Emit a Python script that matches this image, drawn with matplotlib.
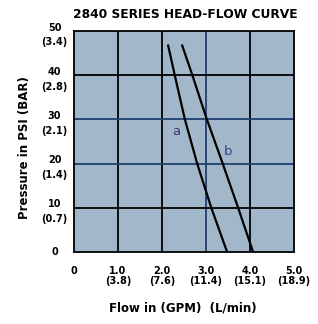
import matplotlib
matplotlib.use("Agg")
import matplotlib.pyplot as plt
import matplotlib.transforms as mtransforms

# curve a / b: flow (GPM) at pressure (PSI)
pressure_a = [46.7, 40, 30, 20, 10, 0]
flow_a = [2.14, 2.29, 2.52, 2.80, 3.12, 3.48]
pressure_b = [46.7, 40, 30, 20, 10, 0]
flow_b = [2.46, 2.69, 3.02, 3.38, 3.73, 4.07]

x_ticks = [0, 1, 2, 3, 4, 5]
x_labels = ["0", "1.0\n(3.8)", "2.0\n(7.6)", "3.0\n(11.4)", "4.0\n(15.1)", "5.0\n(18.9)"]
y_ticks = [0, 10, 20, 30, 40, 50]
y_labels = ["0", "10\n(0.7)", "20\n(1.4)", "30\n(2.1)", "40\n(2.8)", "50\n(3.4)"]

FONT = ["DejaVu Sans"]
BG = "#a3b7cb"
NAVY = "#1f3f6e"

W, H = 318, 324
fig = plt.figure(figsize=(W / 100, H / 100), dpi=100)
ax = fig.add_axes([74 / W, (H - 252) / H, 220 / W, 221 / H])
ax.set_facecolor(BG)
ax.set_xlim(0, 5)
ax.set_ylim(0, 50)

# grid: black lines, with the 3.0 / 20 / 30 lines in dark blue
for x in [1, 2, 4]:
    ax.axvline(x, color="black", lw=1.3, zorder=1)
ax.axvline(3, color=NAVY, lw=1.3, zorder=1)
for y in [10, 40]:
    ax.axhline(y, color="black", lw=1.3, zorder=1)
for y in [20, 30]:
    ax.axhline(y, color=NAVY, lw=1.3, zorder=1)

ax.plot(flow_a, pressure_a, color="black", lw=1.6, zorder=3)
ax.plot(flow_b, pressure_b, color="black", lw=1.6, zorder=3)
ax.text(2.32, 27.3, "a", color="#3c3570", fontsize=9.5, ha="center", va="center",
        family=FONT)
ax.text(3.5, 22.7, "b", color="#2a4a86", fontsize=9.5, ha="center", va="center",
        family=FONT)

for s in ax.spines.values():
    s.set_linewidth(1.3)
    s.set_color("black")

ax.set_xticks(x_ticks)
ax.set_xticklabels(x_labels, fontsize=7, fontweight="bold", family=FONT,
                   linespacing=1.0, va="top")
ax.set_yticks(y_ticks)
ax.set_yticklabels(y_labels, fontsize=7, fontweight="bold", family=FONT,
                   linespacing=1.6, ha="center", va="center")
ax.tick_params(axis="x", length=0, pad=10)
ax.tick_params(axis="y", length=0, pad=14)

# two-line y labels sit a little below their grid line
shift = mtransforms.ScaledTranslation(0, -4 / 100, fig.dpi_scale_trans)
for lab in ax.get_yticklabels()[1:]:
    lab.set_transform(lab.get_transform() + shift)

fig.text(185 / W, 1 - 15 / H, "2840 SERIES HEAD-FLOW CURVE", fontsize=8.8,
         fontweight="bold", family=FONT, ha="center", va="center")
fig.text(183 / W, 1 - 308 / H, "Flow in (GPM)  (L/min)", fontsize=8.5,
         fontweight="bold", family=FONT, ha="center", va="center")
fig.text(25 / W, 1 - 148 / H, "Pressure in PSI (BAR)", fontsize=8.5,
         fontweight="bold", family=FONT, ha="center", va="center", rotation=90)

fig.savefig("out.png", dpi=100, facecolor="white")
